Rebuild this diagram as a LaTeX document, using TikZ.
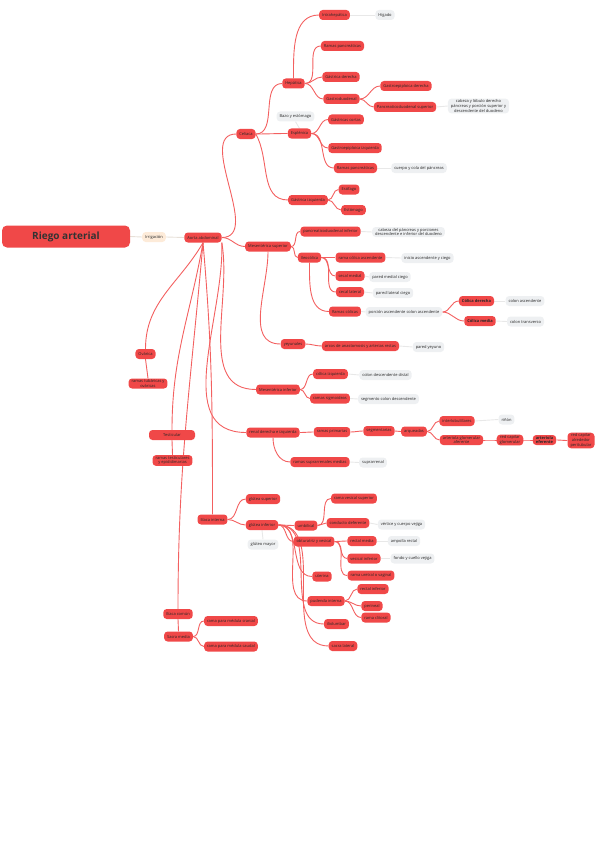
\documentclass[tikz,border=0pt]{standalone}
\usepackage{fontspec}
\setmainfont{Open Sans}
\usetikzlibrary{backgrounds}
\definecolor{mapred}{RGB}{240,72,72}
\definecolor{linkred}{RGB}{243,96,96}
\definecolor{leafgray}{RGB}{238,240,242}
\definecolor{peach}{RGB}{253,235,217}
\tikzset{
  topic/.style={rectangle, rounded corners=3.5pt, fill=mapred, text=black!85,
    font=\fontsize{4}{4.8}\selectfont, inner xsep=3pt, inner ysep=1pt, minimum height=10pt, align=center},
  leaf/.style={topic, fill=leafgray},
  link/.style={draw=linkred, line width=0.9pt, out=0, in=180},
  leaflink/.style={draw=gray!18, line width=0.9pt},
}
\begin{document}
\begin{tikzpicture}[x=1pt,y=1pt]
\useasboundingbox (0,0) rectangle (600,-848);

% Root
\node[topic, rounded corners=5pt, minimum width=128pt, minimum height=22pt,
  font=\fontsize{10}{12}\selectfont\bfseries, text=black!80] (root) at (66,-236.5) {Riego arterial};
\node[topic, fill=peach] (irrig) at (154,-237) {Irrigación};
\node[topic] (aorta) at (203,-237.5) {Aorta abdominal};

% Celiaca
\node[topic] (celiaca) at (246,-134) {Celiaca};
\node[topic] (hepatica) at (293.5,-83.5) {Hepática};
\node[topic] (intrahep) at (334.5,-15) {Intrahepática};
\node[leaf] (higado) at (385,-15) {Hígado};
\node[topic] (rpanc1) at (342.5,-46) {Ramas pancreáticas};
\node[topic] (gastder) at (341,-77) {Gástrica derecha};
\node[topic] (gastrod) at (341.5,-99) {Gastroduodenal};
\node[topic] (gepider) at (406,-86) {Gastroepiploica derecha};
\node[topic] (pdsup) at (405,-107) {Pancreaticoduodenal superior};
\node[leaf] (pdsupleaf) at (478.5,-106) {cabeza y lóbulo derecho\\páncreas y porción superior y\\descendente del duodeno};
\node[topic] (esplen) at (299.5,-133.5) {Esplénica};
\node[leaf] (bazo) at (295.5,-116.5) {Bazo y estómago};
\node[topic] (gcortas) at (346,-119.5) {Gástricas cortas};
\node[topic] (gepiizq) at (355,-148) {Gastroepiploica izquierda};
\node[topic] (rpanc2) at (355.5,-168) {Ramas pancreáticas};
\node[leaf] (rpanc2leaf) at (419,-168) {cuerpo y cola del páncreas};
\node[topic] (gastizq) at (308,-200) {Gástrica izquierda};
\node[topic] (esof) at (349,-189.5) {Esófago};
\node[topic] (estom) at (353.5,-210) {Estómago};

% Mesenterica superior
\node[topic] (messup) at (268,-246.5) {Mesentérica superior};
\node[topic] (pdinf) at (330.5,-231.5) {pancreaticoduodenal inferior};
\node[leaf] (pdinfleaf) at (408.5,-232) {cabeza del páncreas y porciones\\descendente e inferior del duodeno};
\node[topic] (ileo) at (309.5,-257.5) {Ileocólica};
\node[topic] (colasc) at (360.5,-257.5) {rama cólica ascendente};
\node[leaf] (colascleaf) at (427.5,-258) {inicio ascendente y ciego};
\node[topic] (cecmed) at (350,-276) {cecal medial};
\node[leaf] (cecmedleaf) at (390,-277) {pared medial ciego};
\node[topic] (ceclat) at (350,-292) {cecal lateral};
\node[leaf] (ceclatleaf) at (393,-293) {pared lateral ciego};
\node[topic] (rcolicas) at (345,-311.5) {Ramas cólicas};
\node[leaf] (rcolicasleaf) at (404,-312) {porción ascendente colon ascendente};
\node[topic, font=\fontsize{4}{4.8}\selectfont\bfseries] (colder) at (476.5,-301) {Cólica derecha};
\node[leaf] (colderleaf) at (525,-301) {colon ascendente};
\node[topic, font=\fontsize{4}{4.8}\selectfont\bfseries] (colmed) at (480,-321) {Cólica media};
\node[leaf] (colmedleaf) at (525.5,-321.5) {colon transverso};
\node[topic] (yeyun) at (293,-344) {yeyunales};
\node[topic] (arcos) at (360.5,-346) {arcos de anastomosis y arterias rectas};
\node[leaf] (arcosleaf) at (428.5,-347) {pared yeyuno};

% Mesenterica inferior
\node[topic] (mesinf) at (278,-389.5) {Mesentérica inferior};
\node[topic] (colizq) at (330.5,-374) {cólica izquierda};
\node[leaf] (colizqleaf) at (385.5,-375) {colon descendente distal};
\node[topic] (sigm) at (330,-398.5) {ramas sigmoideas};
\node[leaf] (sigmleaf) at (388.5,-399) {segmento colon descendente};

% Renal
\node[topic] (renal) at (273,-432.5) {renal derecha e izquierda};
\node[topic] (rprim) at (332,-432) {ramas primarias};
\node[topic] (segm) at (379,-431) {segmentarias};
\node[topic] (arq) at (414,-431.5) {arqueadas};
\node[topic] (interlob) at (457,-421) {interlobulillares};
\node[leaf] (rinon) at (506.5,-419.5) {riñón};
\node[topic] (aferente) at (461.5,-440) {arteriola glomerular\\aferente};
\node[topic] (capglom) at (510,-440) {red capilar\\glomerular};
\node[topic, font=\fontsize{4}{4.8}\selectfont\bfseries] (eferente) at (544.5,-440) {arteriola\\eferente};
\node[topic] (peritub) at (581,-440.5) {red capilar\\alrededor\\peritubular};
\node[topic] (suprar) at (320,-462) {ramas suprarrenales medias};
\node[leaf] (suprarleaf) at (373,-462.5) {suprarrenal};

% Iliaca interna
\node[topic] (ilint) at (212.5,-519.5) {Ilíaca interna};
\node[topic] (gluts) at (263,-499) {glútea superior};
\node[topic] (gluti) at (262,-525) {glútea inferior};
\node[leaf] (glutleaf) at (263,-544.5) {glúteo mayor};
\node[topic] (umbil) at (306,-525.5) {umbilical};
\node[topic] (vessup) at (354,-498.5) {rama vesical superior};
\node[topic] (deferente) at (348,-523) {conducto deferente};
\node[leaf] (deferenteleaf) at (401.5,-524.5) {vértice y cuerpo vejiga};
\node[topic] (obtur) at (314,-541.5) {obturatriz y vesical};
\node[topic] (rectm) at (362,-541) {rectal media};
\node[leaf] (rectmleaf) at (404,-541) {ampolla rectal};
\node[topic] (vesinf) at (364,-558.5) {vesical inferior};
\node[leaf] (vesinfleaf) at (412.5,-558.5) {fondo y cuello vejiga};
\node[topic] (uretral) at (371,-575.5) {rama uretral o vaginal};
\node[topic] (uterina) at (322,-576.5) {uterina};
\node[topic] (pudenda) at (326,-601) {pudenda interna};
\node[topic] (rectinf) at (373,-589) {rectal inferior};
\node[topic] (perineal) at (372,-606) {perineal};
\node[topic] (clitoral) at (376,-617.5) {rama clitoral};
\node[topic] (iliolumb) at (336.5,-624) {iliolumbar};
\node[topic] (sacralat) at (343,-646) {sacra lateral};

% Gonadales y sacra
\node[topic] (ovarica) at (145.5,-354) {Ovárica};
\node[topic] (ovaricar) at (148,-383.5) {ramas tubáricas y\\ováricas};
\node[topic, minimum width=46pt] (testic) at (172,-435) {Testicular};
\node[topic] (testicr) at (172.5,-460.5) {ramas testiculares\\y epididimarias};
\node[topic] (ilcom) at (178,-614) {Ilíaca común};
\node[topic] (sacra) at (178.5,-636.5) {Sacra media};
\node[topic] (medcran) at (231,-621) {rama para médula cranial};
\node[topic] (medcaud) at (231,-646.5) {rama para médula caudal};

% Connectors
\begin{scope}[on background layer]
\draw[leaflink, draw=peach!70!gray!60] (root.east) -- (irrig.west);
\draw[leaflink, draw=peach!70!gray!60] (irrig.east) -- (aorta.west);

\draw[link] (aorta.east) to (celiaca.west);
\draw[link] (aorta.east) to (messup.west);
\draw[link] (aorta.south east) to[out=-80,in=180] (mesinf.west);
\draw[link] (aorta.south east) to[out=-88,in=180] (renal.west);
\draw[link] (aorta.south) to[out=-85,in=90] (ilint.north);
\draw[link] (aorta.south) to[out=-100,in=90] (testic.north);
\draw[link] (aorta.south) to[out=-95,in=90] (ilcom.north);
\draw[link] (aorta.south) to[out=-120,in=90] (ovarica.north);

\draw[link] (celiaca.east) to (hepatica.west);
\draw[link] (celiaca.east) to (esplen.west);
\draw[link] (celiaca.east) to[out=-60,in=180] (gastizq.west);
\draw[link] (hepatica.north) to[out=90,in=180] (intrahep.west);
\foreach \c in {rpanc1,gastder,gastrod} \draw[link] (hepatica.east) to (\c.west);
\foreach \c in {gepider,pdsup} \draw[link] (gastrod.east) to (\c.west);
\foreach \c in {gcortas,gepiizq,rpanc2} \draw[link] (esplen.east) to (\c.west);
\foreach \c in {esof,estom} \draw[link] (gastizq.east) to (\c.west);

\draw[link] (messup.east) to (pdinf.west);
\draw[link] (messup.east) to (ileo.west);
\draw[link] (messup.south) to[out=-90,in=180] (yeyun.west);
\foreach \c in {colasc,cecmed,ceclat} \draw[link] (ileo.east) to (\c.west);
\draw[link] (ileo.south) to[out=-90,in=180] (rcolicas.west);
\foreach \c in {colder,colmed} \draw[link] (rcolicasleaf.east) to (\c.west);
\draw[link] (yeyun.east) to (arcos.west);

\foreach \c in {colizq,sigm} \draw[link] (mesinf.east) to (\c.west);

\draw[link] (renal.east) to (rprim.west);
\draw[link] (rprim.east) to (segm.west);
\draw[link] (segm.east) to (arq.west);
\foreach \c in {interlob,aferente} \draw[link] (arq.east) to (\c.west);
\draw[link] (aferente.east) to (capglom.west);
\draw[link] (capglom.east) to (eferente.west);
\draw[link] (eferente.east) to (peritub.west);
\draw[link] (renal.south) to[out=-90,in=180] (suprar.west);

\foreach \c in {gluts,gluti} \draw[link] (ilint.east) to (\c.west);
\foreach \c in {umbil,obtur,uterina,pudenda,iliolumb,sacralat} \draw[link] (gluti.east) to (\c.west);
\foreach \c in {vessup,deferente} \draw[link] (umbil.east) to (\c.west);
\foreach \c in {rectm,vesinf,uretral} \draw[link] (obtur.east) to (\c.west);
\foreach \c in {rectinf,perineal,clitoral} \draw[link] (pudenda.east) to (\c.west);

\draw[link] (ovarica.south) -- (ovaricar.north);
\draw[link] (testic.south) -- (testicr.north);
\draw[link] (ilcom.south) -- (sacra.north);
\foreach \c in {medcran,medcaud} \draw[link] (sacra.east) to (\c.west);

% Leaf connectors
\draw[leaflink] (intrahep.east) -- (higado.west);
\draw[leaflink] (pdsup.east) -- (pdsupleaf.west);
\draw[leaflink] (bazo.south) -- (esplen.north);
\draw[leaflink] (rpanc2.east) -- (rpanc2leaf.west);
\draw[leaflink] (pdinf.east) -- (pdinfleaf.west);
\draw[leaflink] (colasc.east) -- (colascleaf.west);
\draw[leaflink] (cecmed.east) -- (cecmedleaf.west);
\draw[leaflink] (ceclat.east) -- (ceclatleaf.west);
\draw[leaflink] (rcolicas.east) -- (rcolicasleaf.west);
\draw[leaflink] (colder.east) -- (colderleaf.west);
\draw[leaflink] (colmed.east) -- (colmedleaf.west);
\draw[leaflink] (arcos.east) -- (arcosleaf.west);
\draw[leaflink] (colizq.east) -- (colizqleaf.west);
\draw[leaflink] (sigm.east) -- (sigmleaf.west);
\draw[leaflink] (interlob.east) -- (rinon.west);
\draw[leaflink] (suprar.east) -- (suprarleaf.west);
\draw[leaflink] (gluti.south) -- (glutleaf.north);
\draw[leaflink] (deferente.east) -- (deferenteleaf.west);
\draw[leaflink] (rectm.east) -- (rectmleaf.west);
\draw[leaflink] (vesinf.east) -- (vesinfleaf.west);
\end{scope}

\end{tikzpicture}
\end{document}
